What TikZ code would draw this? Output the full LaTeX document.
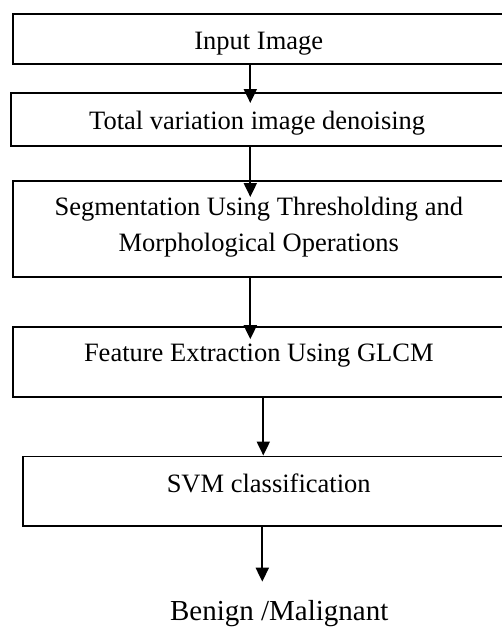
\documentclass[tikz,border=0pt]{standalone}
\usepackage{fontspec}
\setmainfont{Liberation Serif}
\usetikzlibrary{arrows.meta,calc}
\begin{document}
\begin{tikzpicture}[x=1pt,y=-1pt,
  box/.style={draw, line width=1.8pt, rectangle, outer sep=0pt, inner sep=0pt},
  lbl/.style={anchor=base, inner sep=0pt, font=\fontsize{26.5}{35}\selectfont},
  arr/.style={line width=2pt, -{Triangle[width=13pt,length=14pt]}}]
\path[use as bounding box, clip] (0,0) rectangle (502,627);
% boxes
\node[box, minimum width=506.7pt, minimum height=50.3pt] (b1) at (266.65,39.15) {};
\node[box, minimum width=509pt,   minimum height=52.7pt] (b2) at (265.5,119.65) {};
\node[box, minimum width=506.7pt, minimum height=96.3pt] (b3) at (266.65,229.15) {};
\node[box, minimum width=506.7pt, minimum height=70.3pt] (b4) at (266.65,361.85) {};
\node[box, minimum width=497pt,   minimum height=69.5pt] (b5) at (271.5,491.25) {};
% texts
\node[lbl] (t1) at (258.8,49.3) {Input Image};
\node[lbl] (t2) at (257.2,129.3) {Total variation image denoising};
\node[lbl] (t3a) at (258.8,215.7) {Segmentation Using Thresholding and};
\node[lbl] (t3b) at (258.7,251) {Morphological Operations};
\node[lbl] (t4) at (258.8,361.7) {Feature Extraction Using GLCM};
\node[lbl] (t5) at (268.7,492) {SVM classification};
\node[lbl, font=\fontsize{29}{35}\selectfont] (out) at (279.2,620) {Benign /Malignant};
% arrow columns
\coordinate (xa) at (250.3,0);
\coordinate (xb) at (263.3,0);
\coordinate (xc) at (262.3,0);
% connectors
\draw[arr] (b1.south -| xa) -- ($(b2.north -| xa)+(0,9.7)$);
\draw[arr] (b2.south -| xa) -- ($(b3.north -| xa)+(0,16)$);
\draw[arr] (b3.south -| xa) -- ($(b4.north -| xa)+(0,12.5)$);
\draw[arr] (b4.south -| xb) -- ($(b5.north -| xb)+(0,-1)$);
\draw[arr] (b5.south -| xc) -- ($(out.north -| xc)+(0,-18)$);
\end{tikzpicture}
\end{document}
